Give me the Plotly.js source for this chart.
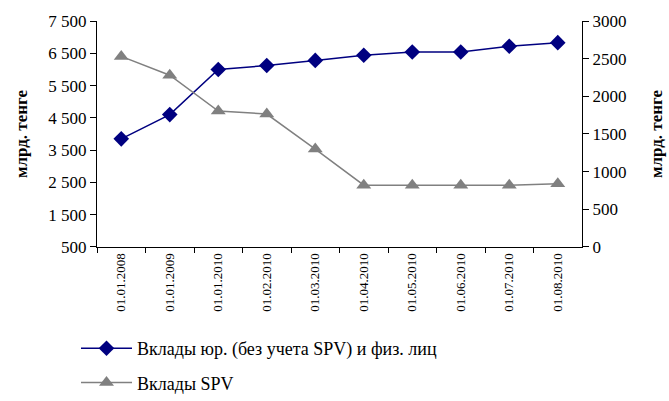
<!DOCTYPE html>
<html><head><meta charset="utf-8">
<script src="https://cdn.plot.ly/plotly-3.0.1.min.js"></script>
<style>html,body{margin:0;padding:0;background:#fff}#chart{width:669px;height:401px}</style>
</head><body><div id="chart"></div>
<script>
const categories = ["01.01.2008","01.01.2009","01.01.2010","01.02.2010","01.03.2010","01.04.2010","01.05.2010","01.06.2010","01.07.2010","01.08.2010"];
const depositsMain = [3850, 4600, 6000, 6120, 6280, 6440, 6540, 6540, 6720, 6830];
const depositsSPV = [2530, 2280, 1805, 1765, 1300, 820, 820, 820, 820, 840];
const seriesNames = ["Вклады юр. (без учета SPV) и физ. лиц", "Вклады SPV"];
const axisTitle = "млрд. тенге";

const font = "Liberation Serif";
const traces = [
  {x: categories, y: depositsMain, name: seriesNames[0], type: "scatter", mode: "lines+markers",
   line: {color: "#000080", width: 1.5}, marker: {symbol: "diamond", size: 12, color: "#000080"},
   legendgroup: "a", yaxis: "y"},
  {x: categories, y: depositsSPV, name: seriesNames[1], type: "scatter", mode: "lines+markers",
   line: {color: "#808080", width: 1.5}, marker: {symbol: "triangle-up", size: 13, color: "#808080"},
   legendgroup: "b", yaxis: "y2"}
];
const layout = {
  width: 669, height: 401,
  margin: {l: 0, r: 0, t: 21, b: 0},
  paper_bgcolor: "#fff", plot_bgcolor: "#fff",
  separators: ". ",
  font: {family: font, color: "#000", size: 16},
  showlegend: true,
  legend: {x: 0.1136, xanchor: "left", y: 0, yanchor: "bottom",
           orientation: "v", font: {family: font, size: 18}, tracegroupgap: 8, itemwidth: 51,
           bgcolor: "rgba(0,0,0,0)"},
  xaxis: {type: "category", range: [-0.5, 9.5], domain: [0.145, 0.870],
          showline: true, linecolor: "#000", linewidth: 1,
          ticks: "outside", tickson: "boundaries", ticklen: 5, tickcolor: "#000",
          tickangle: -90, tickfont: {family: font, size: 13}, showgrid: false, zeroline: false},
  yaxis: {range: [500, 7500], tick0: 500, dtick: 1000, separatethousands: true, domain: [0.4053, 1],
          showline: true, linecolor: "#000", ticks: "outside", ticklen: 6, tickcolor: "#000",
          showgrid: false, zeroline: false, tickfont: {family: font, size: 17},
          title: {text: "<b>" + axisTitle + "</b>", font: {family: font, size: 17}, standoff: 16}},
  yaxis2: {range: [0, 3000], dtick: 500, overlaying: "y", side: "right",
           showline: true, linecolor: "#000", ticks: "outside", ticklen: 6, tickcolor: "#000",
           showgrid: false, zeroline: false, tickfont: {family: font, size: 17},
           title: {text: "<b>" + axisTitle + "</b>", font: {family: font, size: 17}, standoff: 24}}
};
Plotly.newPlot("chart", traces, layout, {displayModeBar: false, staticPlot: true});
</script></body></html>
